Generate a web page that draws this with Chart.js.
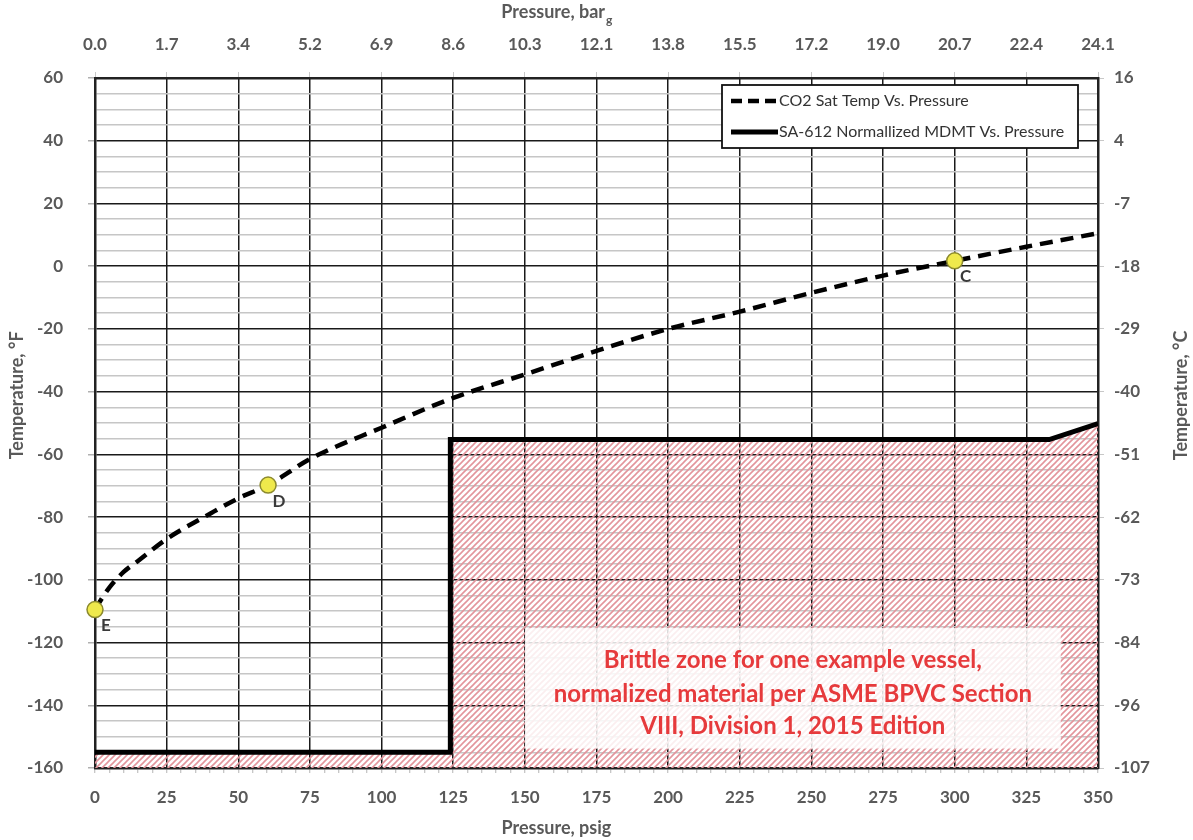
<!DOCTYPE html>
<html><head><meta charset="utf-8">
<script src="https://cdn.jsdelivr.net/npm/chart.js@4.4.1/dist/chart.umd.min.js"></script>
<style>html,body{margin:0;padding:0;background:#fff}canvas{display:block}</style>
</head><body>
<canvas id="c" width="1193" height="840"></canvas>
<script>
// ---- data ----
const co2Psig  = [0, 2, 5, 10, 15, 25, 40, 50, 60.4, 75, 100, 125, 150, 175, 200, 225, 250, 275, 300, 325, 350];
const co2TempF = [-109.5, -106.5, -102.5, -97.5, -94, -87, -79, -74, -69.8, -61.5, -51.5, -42, -34.5, -27, -20, -14.5, -8.5, -3, 1.7, 6.2, 10.5];
const mdmtPsig  = [0, 124, 124, 333, 350];
const mdmtTempF = [-155, -155, -55.3, -55.3, -50.2];
const pointNames = ['E', 'D', 'C'];
const pointPsig  = [0, 60.4, 300];
const pointTempF = [-109.5, -69.8, 1.7];
const barTickLabels = ['0.0','1.7','3.4','5.2','6.9','8.6','10.3','12.1','13.8','15.5','17.2','19.0','20.7','22.4','24.1'];
const celsiusTickLabels = ['-107','-96','-84','-73','-62','-51','-40','-29','-18','-7','4','16'];
const seriesLabels = ['CO2 Sat Temp Vs. Pressure', 'SA-612 Normallized MDMT Vs. Pressure'];
const noteLines = ['Brittle zone for one example vessel,', 'normalized material per ASME BPVC Section', 'VIII, Division 1, 2015 Edition'];
const noteBoxPsig = [150, 337];
const noteBoxTempF = [-115.4, -153.8];
const noteLineTempF = [-125.6, -136.4, -146.6];

const GREY = '#595959';
const FONT = 'Lato';

function makeHatch() {
  const s = 6;
  const c = document.createElement('canvas'); c.width = s; c.height = s;
  const g = c.getContext('2d');
  g.strokeStyle = '#e3959c'; g.lineWidth = 1.6; g.lineCap = 'square';
  g.beginPath();
  g.moveTo(0, s); g.lineTo(s, 0);
  g.moveTo(-1, 1); g.lineTo(1, -1);
  g.moveTo(s - 1, s + 1); g.lineTo(s + 1, s - 1);
  g.stroke();
  return g.createPattern(c, 'repeat');
}

const overlayPlugin = {
  id: 'overlay',
  afterDatasetsDraw(chart) {
    const ctx = chart.ctx, xs = chart.scales.x, ys = chart.scales.y;
    // note box
    const x0 = xs.getPixelForValue(noteBoxPsig[0]), x1 = xs.getPixelForValue(noteBoxPsig[1]);
    const y0 = ys.getPixelForValue(noteBoxTempF[0]), y1 = ys.getPixelForValue(noteBoxTempF[1]);
    ctx.save();
    ctx.fillStyle = 'rgba(255,255,255,0.84)';
    ctx.fillRect(x0, y0, x1 - x0, y1 - y0);
    ctx.fillStyle = '#e63a3c';
    ctx.font = 'bold 24px ' + FONT;
    ctx.textAlign = 'center'; ctx.textBaseline = 'middle';
    const cx = (x0 + x1) / 2;
    noteLines.forEach((t, i) => ctx.fillText(t, cx, ys.getPixelForValue(noteLineTempF[i])));
    // point labels
    ctx.fillStyle = '#3a3a3a';
    ctx.font = 'bold 17px ' + FONT;
    pointNames.forEach((n, i) => {
      ctx.fillText(n, xs.getPixelForValue(pointPsig[i]) + 11, ys.getPixelForValue(pointTempF[i]) + 16);
    });
    ctx.restore();
  },
  afterDraw(chart) {
    const ctx = chart.ctx, a = chart.chartArea;
    ctx.save();
    // legend
    const lw = 356, lh = 63;
    const lx = a.right - 20 - lw, ly = a.top + 7;
    ctx.fillStyle = '#fff';
    ctx.fillRect(lx, ly, lw, lh);
    ctx.strokeStyle = '#111'; ctx.lineWidth = 1.8;
    ctx.strokeRect(lx, ly, lw, lh);
    const dsets = [chart.data.datasets[1], chart.data.datasets[2]];
    dsets.forEach((d, i) => {
      const yy = ly + 16 + i * 31;
      ctx.beginPath();
      ctx.strokeStyle = '#000';
      ctx.lineWidth = d.borderWidth;
      ctx.setLineDash(i === 0 ? [11, 6] : []);
      ctx.moveTo(lx + 9, yy); ctx.lineTo(lx + 56, yy);
      ctx.stroke();
      ctx.setLineDash([]);
      ctx.fillStyle = '#333';
      ctx.font = '16px ' + FONT;
      ctx.textAlign = 'left'; ctx.textBaseline = 'middle';
      ctx.fillText(d.label, lx + 57, yy);
    });
    const titleCx = a.left + (a.right - a.left) * 0.46;
    const titleCy = a.top + (a.bottom - a.top) * 0.46;
    // top title with subscript g
    const xt = chart.scales.x2;
    ctx.fillStyle = GREY;
    ctx.font = 'bold 18px ' + FONT;
    ctx.textBaseline = 'middle'; ctx.textAlign = 'left';
    const main = 'Pressure, bar';
    const w1 = ctx.measureText(main).width;
    ctx.font = 'bold 12px ' + FONT;
    const w2 = ctx.measureText('g').width;
    const tx = titleCx - (w1 + w2) / 2;
    const ty = xt.top + 12;
    ctx.font = 'bold 18px ' + FONT;
    ctx.fillText(main, tx, ty);
    ctx.font = 'bold 12px ' + FONT;
    ctx.fillText('g', tx + w1 + 1, ty + 8);
    // bottom title
    const xb = chart.scales.x;
    ctx.textAlign = 'center';
    ctx.font = 'bold 18px ' + FONT;
    ctx.fillText('Pressure, psig', titleCx, xb.bottom - 12);
    // left title (reads bottom to top)
    const yl = chart.scales.y;
    ctx.save();
    ctx.translate(yl.left + 17, titleCy);
    ctx.rotate(-Math.PI / 2);
    ctx.fillText('Temperature, °F', 0, 0);
    ctx.restore();
    // right title (reads bottom to top)
    const yr = chart.scales.y2;
    ctx.save();
    ctx.translate(yr.right - 12, titleCy);
    ctx.rotate(-Math.PI / 2);
    ctx.fillText('Temperature, °C', 0, 0);
    ctx.restore();
    ctx.restore();
  }
};

const tickFont = { family: FONT, size: 17, weight: 'bold' };
const hatch = makeHatch();

new Chart(document.getElementById('c'), {
  type: 'line',
  data: {
    datasets: [
      {
        label: 'Points',
        data: pointPsig.map((x, i) => ({ x, y: pointTempF[i] })),
        showLine: false,
        pointRadius: 8,
        pointBackgroundColor: '#efe94c',
        pointBorderColor: '#8c8a2e',
        pointBorderWidth: 1.5,
        clip: false,
        fill: false
      },
      {
        label: seriesLabels[0],
        data: co2Psig.map((x, i) => ({ x, y: co2TempF[i] })),
        borderColor: '#000',
        borderWidth: 4.5,
        borderDash: [13, 8],
        cubicInterpolationMode: 'monotone',
        pointRadius: 0,
        fill: false
      },
      {
        label: seriesLabels[1],
        data: mdmtPsig.map((x, i) => ({ x, y: mdmtTempF[i] })),
        borderColor: '#000',
        borderWidth: 5,
        borderJoinStyle: 'miter',
        tension: 0,
        pointRadius: 0,
        fill: 'start',
        backgroundColor: hatch
      }
    ]
  },
  options: {
    responsive: false,
    animation: false,
    layout: { padding: 0 },
    plugins: { legend: { display: false }, tooltip: { enabled: false } },
    scales: {
      x: {
        type: 'linear', position: 'bottom', min: 0, max: 350,
        afterFit: s => { s.height = 72; },
        ticks: {
          stepSize: 5, autoSkip: false, maxRotation: 0, minRotation: 0,
          callback: v => (v % 25 === 0 ? String(v) : ''),
          font: tickFont, color: GREY, padding: 14
        },
        grid: {
          color: c => (c.tick && c.tick.value % 25 === 0 ? '#1a1a1a' : 'rgba(0,0,0,0)'),
          lineWidth: 1.5,
          tickColor: '#b5b5b5', tickLength: 5, tickWidth: 1
        },
        border: { color: '#222', width: 2.5 }
      },
      x2: {
        type: 'linear', position: 'top', min: 0, max: 350,
        afterFit: s => { s.height = 78; },
        ticks: {
          stepSize: 25, autoSkip: false, maxRotation: 0, minRotation: 0,
          callback: (v, i) => barTickLabels[i],
          font: tickFont, color: GREY, padding: 17
        },
        grid: { drawOnChartArea: false, tickColor: '#c8c8c8', tickLength: 6 },
        border: { color: '#222', width: 2.5 }
      },
      y: {
        type: 'linear', position: 'left', min: -160, max: 60,
        afterFit: s => { s.width = 95; },
        ticks: {
          stepSize: 5, autoSkip: false,
          callback: v => (v % 20 === 0 ? String(v) : ''),
          font: tickFont, color: GREY, padding: 25
        },
        grid: {
          color: c => (c.tick && c.tick.value % 20 === 0 ? '#1a1a1a' : '#c6c6c6'),
          lineWidth: c => (c.tick && c.tick.value % 20 === 0 ? 1.5 : 1.6),
          tickColor: c => (c.tick && c.tick.value % 20 === 0 ? '#b0b0b0' : 'rgba(0,0,0,0)'),
          tickLength: 7
        },
        border: { color: '#222', width: 2.5 }
      },
      y2: {
        type: 'linear', position: 'right', min: -160, max: 60,
        afterFit: s => { s.width = 95; },
        ticks: {
          stepSize: 20, autoSkip: false,
          callback: (v, i) => celsiusTickLabels[i],
          font: tickFont, color: GREY, padding: 10
        },
        grid: { drawOnChartArea: false, tickColor: '#c8c8c8', tickLength: 6 },
        border: { color: '#222', width: 2.5 }
      }
    }
  },
  plugins: [overlayPlugin]
});
</script>
</body></html>
